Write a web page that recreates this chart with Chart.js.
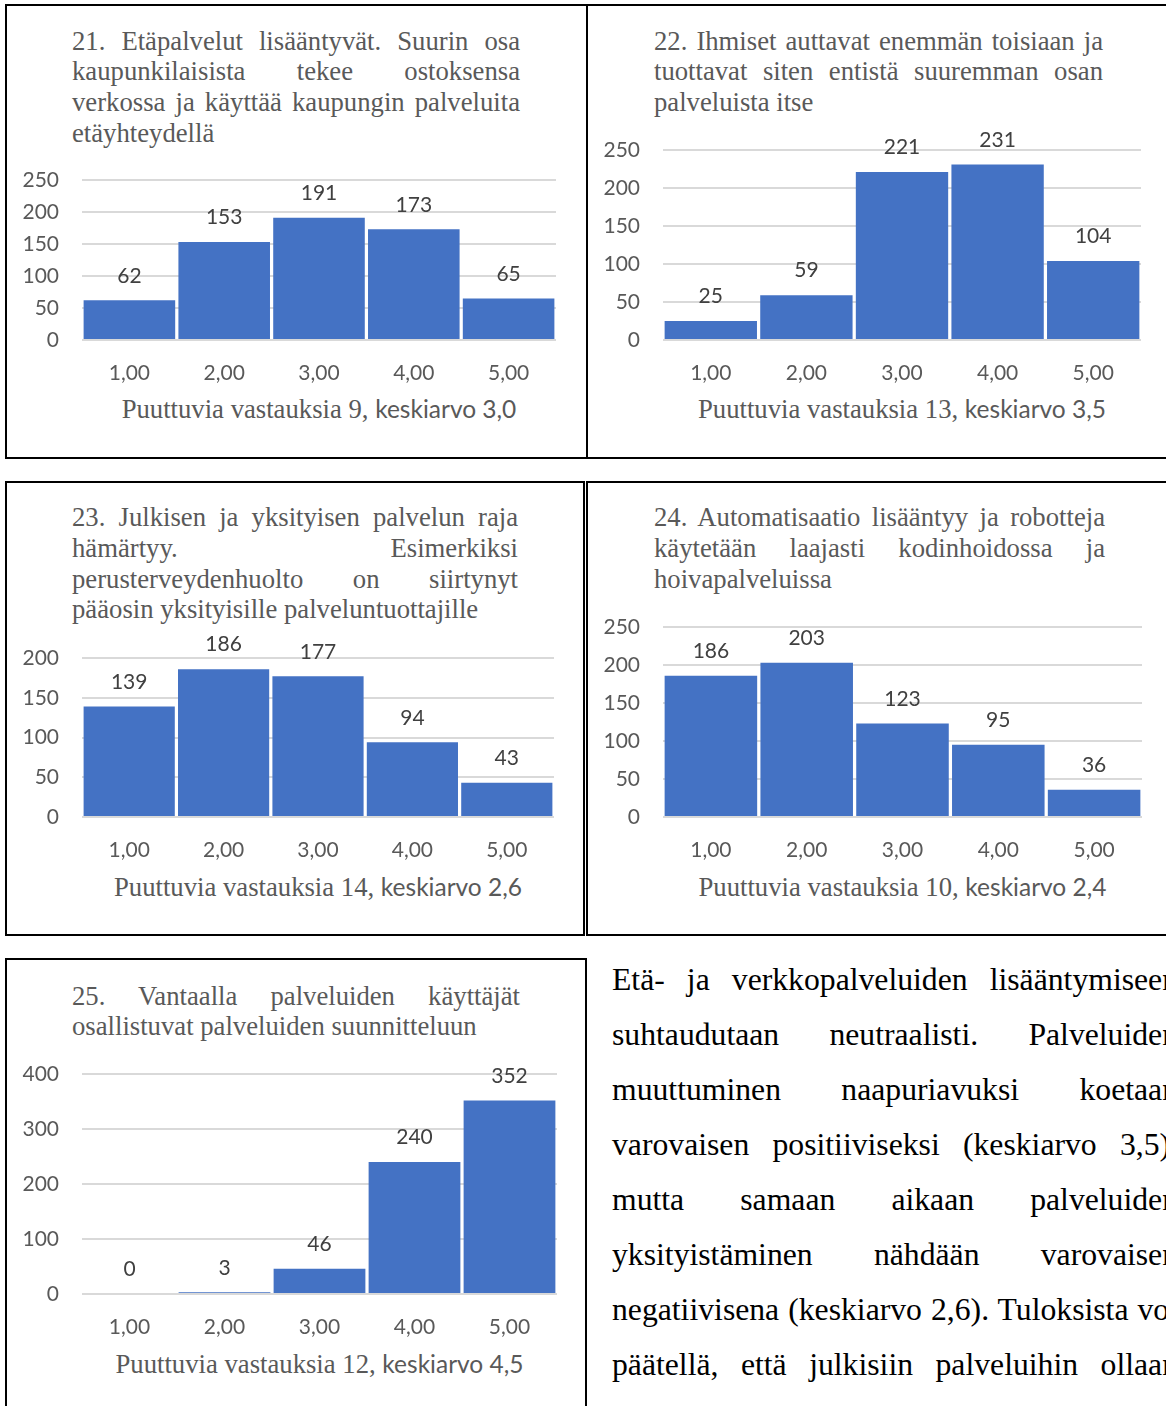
<!DOCTYPE html>
<html>
<head>
<meta charset="utf-8">
<script src="https://cdn.jsdelivr.net/npm/chart.js@4"></script>
<style>
html,body{margin:0;padding:0;background:#fff;}
body{width:1166px;height:1406px;overflow:hidden;position:relative;}
.box{position:absolute;border:2px solid #000;box-sizing:border-box;}
.title{position:absolute;font-family:'Liberation Serif','Times New Roman',serif;font-size:26.7px;line-height:30.7px;color:#595959;}
.title .ln{text-align:justify;text-align-last:justify;}
.title .ln.last{text-align:left;text-align-last:left;}
.xt{position:absolute;text-align:center;line-height:34px;color:#595959;font-family:'Liberation Serif','Times New Roman',serif;font-size:26.7px;white-space:nowrap;}
.xt .c{font-family:Lato,'Open Sans',sans-serif;font-size:24.5px;}
canvas{position:absolute;}
.para{position:absolute;left:612px;width:566px;font-family:'Liberation Serif','Times New Roman',serif;font-size:31.7px;line-height:55px;color:#000;text-align:justify;text-align-last:justify;white-space:nowrap;}
</style>
</head>
<body>
<script>
// ---- data ----
const categories = ['1,00', '2,00', '3,00', '4,00', '5,00'];
const counts21 = [62, 153, 191, 173, 65];
const counts22 = [25, 59, 221, 231, 104];
const counts23 = [139, 186, 177, 94, 43];
const counts24 = [186, 203, 123, 95, 36];
const counts25 = [0, 3, 46, 240, 352];
const yMaxes = [250, 250, 200, 250, 400];
const ySteps = [50, 50, 50, 50, 100];
const missing = [9, 13, 14, 10, 12];
const means = ['3,0', '3,5', '2,6', '2,4', '4,5'];
const title21 = ['21. Etäpalvelut lisääntyvät. Suurin osa', 'kaupunkilaisista tekee ostoksensa', 'verkossa ja käyttää kaupungin palveluita', 'etäyhteydellä'];
const title22 = ['22. Ihmiset auttavat enemmän toisiaan ja', 'tuottavat siten entistä suuremman osan', 'palveluista itse'];
const title23 = ['23. Julkisen ja yksityisen palvelun raja', 'hämärtyy. Esimerkiksi', 'perusterveydenhuolto on siirtynyt', 'pääosin yksityisille palveluntuottajille'];
const title24 = ['24. Automatisaatio lisääntyy ja robotteja', 'käytetään laajasti kodinhoidossa ja', 'hoivapalveluissa'];
const title25 = ['25. Vantaalla palveluiden käyttäjät', 'osallistuvat palveluiden suunnitteluun'];
const paragraphLines = [
  'Etä- ja verkkopalveluiden lisääntymiseen',
  'suhtaudutaan neutraalisti. Palveluiden',
  'muuttuminen naapuriavuksi koetaan',
  'varovaisen positiiviseksi (keskiarvo 3,5),',
  'mutta samaan aikaan palveluiden',
  'yksityistäminen nähdään varovaisen',
  'negatiivisena (keskiarvo 2,6). Tuloksista voi',
  'päätellä, että julkisiin palveluihin ollaan'
];

// ---- layout (positions only) ----
const boxes = [
  {l:5, t:4, w:583, h:455},
  {l:586, t:4, w:600, h:455},
  {l:5, t:481, w:580, h:455},
  {l:586, t:481, w:600, h:455},
  {l:5, t:958, w:582, h:500}
];
const areas = [
  {l:82, r:556, t:180, b:340, titleL:72, titleR:520, titleT:25.6, xtT:392.2},
  {l:663, r:1141, t:150, b:340, titleL:654, titleR:1103, titleT:25.6, xtT:392.2},
  {l:82, r:554, t:658, b:817, titleL:72, titleR:518, titleT:502.3, xtT:869.5},
  {l:663, r:1142, t:627, b:817, titleL:654, titleR:1105, titleT:502.3, xtT:869.5},
  {l:82, r:557, t:1074, b:1294, titleL:72, titleR:520, titleT:980.6, xtT:1347.2}
];
const allCounts = [counts21, counts22, counts23, counts24, counts25];
const allTitles = [title21, title22, title23, title24, title25];

const YW = 80, PT = 50, PR = 8, XH = 52;

const valueLabels = {
  id: 'valueLabels',
  afterDatasetsDraw(chart) {
    const ctx = chart.ctx;
    const meta = chart.getDatasetMeta(0);
    const vals = chart.data.datasets[0].data;
    ctx.save();
    ctx.font = '21px Lato';
    ctx.fillStyle = '#404040';
    ctx.textAlign = 'center';
    ctx.textBaseline = 'middle';
    meta.data.forEach((bar, i) => {
      ctx.fillText(String(vals[i]), bar.x, bar.y - 24.5);
    });
    ctx.restore();
  }
};

boxes.forEach(b => {
  const d = document.createElement('div');
  d.className = 'box';
  d.style.cssText = `left:${b.l}px;top:${b.t}px;width:${b.w}px;height:${b.h}px;`;
  document.body.appendChild(d);
});

areas.forEach((a, k) => {
  const t = document.createElement('div');
  t.className = 'title';
  t.style.cssText = `left:${a.titleL}px;top:${a.titleT}px;width:${a.titleR - a.titleL}px;`;
  allTitles[k].forEach((line, i, arr) => {
    const ln = document.createElement('div');
    ln.className = 'ln' + (i === arr.length - 1 ? ' last' : '');
    ln.textContent = line;
    t.appendChild(ln);
  });
  document.body.appendChild(t);

  const xt = document.createElement('div');
  xt.className = 'xt';
  xt.style.cssText = `left:${a.l}px;top:${a.xtT}px;width:${a.r - a.l}px;`;
  const s1 = document.createElement('span');
  s1.textContent = 'Puuttuvia vastauksia ' + missing[k] + ', ';
  const s2 = document.createElement('span');
  s2.className = 'c';
  s2.textContent = 'keskiarvo ' + means[k];
  xt.appendChild(s1); xt.appendChild(s2);
  document.body.appendChild(xt);

  const cv = document.createElement('canvas');
  const cw = a.r - a.l + YW + PR;
  const ch = a.b - a.t + PT + XH;
  cv.width = cw; cv.height = ch;
  cv.style.cssText = `left:${a.l - YW}px;top:${a.t - PT}px;width:${cw}px;height:${ch}px;`;
  document.body.appendChild(cv);

  new Chart(cv, {
    type: 'bar',
    data: {
      labels: categories,
      datasets: [{
        data: allCounts[k],
        backgroundColor: '#4472C4',
        borderWidth: 0,
        barPercentage: 0.966,
        categoryPercentage: 1
      }]
    },
    options: {
      responsive: false,
      animation: false,
      devicePixelRatio: 1,
      layout: {padding: {top: PT, right: PR, left: 0, bottom: 0}},
      plugins: {legend: {display: false}, tooltip: {enabled: false}, title: {display: false}},
      scales: {
        x: {
          grid: {display: false, drawTicks: false},
          border: {display: false},
          ticks: {color: '#595959', font: {family: 'Lato', size: 21}, padding: 21, maxRotation: 0, autoSkip: false},
          afterFit(s) { s.height = XH; }
        },
        y: {
          min: 0,
          max: yMaxes[k],
          ticks: {stepSize: ySteps[k], color: '#595959', font: {family: 'Lato', size: 21}, padding: 23},
          grid: {color: '#d9d9d9', lineWidth: 2, drawTicks: false},
          border: {display: false},
          afterFit(s) { s.width = YW; }
        }
      }
    },
    plugins: [valueLabels]
  });
});

paragraphLines.forEach((line, i) => {
  const p = document.createElement('div');
  p.className = 'para';
  p.style.top = (951.8 + 55 * i) + 'px';
  p.textContent = line;
  document.body.appendChild(p);
});
</script>
</body>
</html>
